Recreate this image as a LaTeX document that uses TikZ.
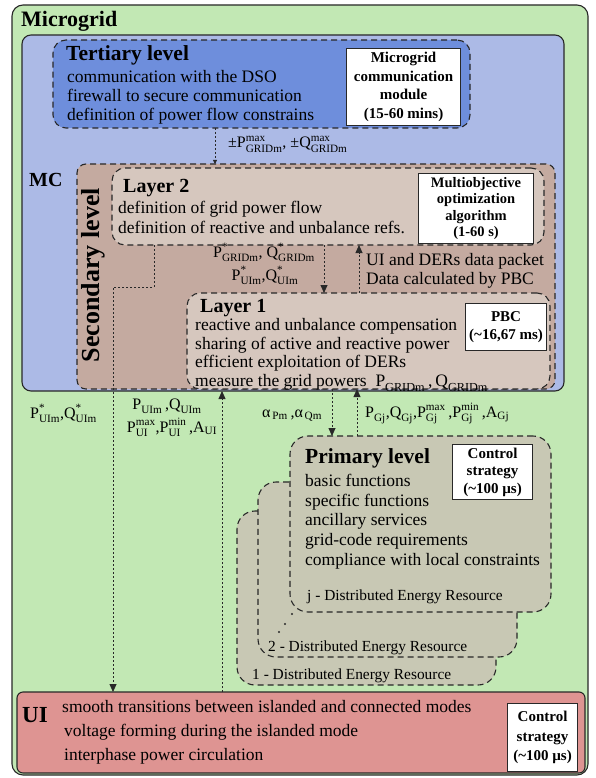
\documentclass[tikz,border=0pt]{standalone}
\usepackage{fontspec}
\usepackage{amsmath}
\setmainfont{Liberation Serif}
\usetikzlibrary{arrows.meta,positioning}

\definecolor{gridgreen}{RGB}{194,232,180}
\definecolor{mcblue}{RGB}{172,186,230}
\definecolor{tertblue}{RGB}{110,142,220}
\definecolor{secbrown}{RGB}{196,170,160}
\definecolor{layerbrown}{RGB}{214,199,190}
\definecolor{derkhaki}{RGB}{200,200,180}
\definecolor{uired}{RGB}{222,148,146}
\definecolor{edge}{RGB}{40,40,40}

\newcommand{\sig}[3]{#1$^{\text{#2}}_{\text{#3}}$}

\begin{document}
\begin{tikzpicture}[x=1pt, y=-1pt,
    box/.style={draw=edge, inner sep=0pt, outer sep=0pt, anchor=north west},
    solidbox/.style={box, line width=1.1pt, rounded corners=9pt},
    dashbox/.style={box, line width=1.1pt, dash pattern=on 6pt off 4pt, rounded corners=13pt},
    infobox/.style={draw=edge, fill=white, line width=1.1pt, inner sep=0pt, anchor=north west, align=center},
    title/.style={anchor=base west, inner sep=0pt, font=\bfseries\fontsize{20}{22}\selectfont},
    body/.style={anchor=north west, inner sep=0pt, align=left},
    label/.style={inner sep=0pt, font=\fontsize{16}{19}\selectfont, align=center},
    link/.style={draw=edge, line width=0.8pt, dash pattern=on 2pt off 2pt},
    linkarrow/.style={link, -{Triangle[width=7pt,length=8pt]}},
    tinyarrow/.style={link, -{Triangle[width=4pt,length=4pt]}}
]
    \useasboundingbox (0,0) rectangle (596,778);
    \fontsize{17.5}{19}\selectfont

    % Cajas principales
    \node[solidbox, fill=gridgreen, minimum width=576, minimum height=770, rounded corners=11pt] (mg) at (12,5) {};
    \node[solidbox, fill=mcblue, minimum width=542, minimum height=356] (mc) at (22,35) {};
    \node[dashbox, fill=tertblue, minimum width=417, minimum height=88] (tert) at (53,40) {};
    \node[dashbox, fill=secbrown, minimum width=478, minimum height=225, rounded corners=9pt] (sec) at (77,164) {};
    \node[dashbox, fill=layerbrown, minimum width=432, minimum height=77] (lay2) at (112,168) {};
    \node[dashbox, fill=layerbrown, minimum width=363, minimum height=96] (lay1) at (187,293) {};
    \node[dashbox, fill=derkhaki, minimum width=259, minimum height=174, rounded corners=18pt] (der1) at (237,511) {};
    \node[dashbox, fill=derkhaki, minimum width=259, minimum height=175, rounded corners=18pt] (der2) at (258,482) {};
    \node[dashbox, fill=derkhaki, minimum width=261, minimum height=176, rounded corners=18pt] (derj) at (290,436) {};
    \node[solidbox, fill=uired, minimum width=568, minimum height=81, rounded corners=6pt] (ui) at (17,692) {};

    % Cajas blancas
    \node[infobox, minimum width=114, minimum height=77, font=\bfseries\fontsize{15}{18.5}\selectfont] (commod) at (346,48)
        {Microgrid\\communication\\module\\(15-60 mins)};
    \node[infobox, minimum width=115, minimum height=70, font=\bfseries\fontsize{14.5}{16.3}\selectfont] (optalg) at (418,173)
        {Multiobjective\\optimization\\algorithm\\(1-60 s)};
    \node[infobox, minimum width=81, minimum height=47, font=\bfseries\fontsize{15}{18}\selectfont] (pbc) at (465,303)
        {PBC\\(\textasciitilde16,67 ms)};
    \node[infobox, minimum width=80, minimum height=55, font=\bfseries\fontsize{15}{17.5}\selectfont] (dercs) at (452,444)
        {Control\\strategy\\(\textasciitilde100 µs)};
    \node[infobox, minimum width=70, minimum height=68, font=\bfseries\fontsize{15}{19.5}\selectfont] (uics) at (507,703)
        {Control\\strategy\\(\textasciitilde100 µs)};

    % Títulos
    \node[title, font=\bfseries\fontsize{22}{24}\selectfont] (mgtitle) at (21,27) {Microgrid};
    \node[title, font=\bfseries\fontsize{20}{22}\selectfont] (mctitle) at (29,186) {MC};
    \node[title, font=\bfseries\fontsize{21.5}{24}\selectfont] (terttitle) at (66,61) {Tertiary level};
    \node[inner sep=0pt, rotate=90, font=\bfseries\fontsize{26}{28}\selectfont] (sectitle) at (93,275) {Secondary level};
    \node[title] (lay2title) at (123,193) {Layer 2};
    \node[title] (lay1title) at (200,312) {Layer 1};
    \node[title, font=\bfseries\fontsize{21.5}{24}\selectfont] (primtitle) at (305,463) {Primary level};
    \node[title, font=\bfseries\fontsize{23}{25}\selectfont] (uititle) at (22,722) {UI};

    % Textos
    \node[body] (terttext) at (67,70) {communication with the DSO\\firewall to secure communication\\definition of power flow constrains};
    \node[body, font=\fontsize{17.5}{20}\selectfont] (lay2text) at (118,201) {definition of grid power flow\\definition of reactive and unbalance refs.};
    \node[body, font=\fontsize{17.5}{18.7}\selectfont] (lay1text) at (195,318) {reactive and unbalance compensation\\sharing of active and reactive power\\efficient exploitation of DERs\\measure the grid powers \ \sig{P}{}{GRIDm}\,,\,\sig{Q}{}{GRIDm}};
    \node[body, font=\fontsize{17.5}{19.7}\selectfont] (primtext) at (305,474) {basic functions\\specific functions\\ancillary services\\grid-code requirements\\compliance with local constraints};
    \node[body, font=\fontsize{17.5}{24}\selectfont] (uitext) at (62,700) {smooth transitions between islanded and connected modes\\\hspace{2pt}voltage forming during the islanded mode\\\hspace{2pt}interphase power circulation};
    \node[anchor=base west, inner sep=0pt, font=\fontsize{15.4}{17}\selectfont] (derjname) at (307,600) {j - Distributed Energy Resource};
    \node[anchor=base west, inner sep=0pt, font=\fontsize{15.4}{17}\selectfont] (der2name) at (268,651) {2 - Distributed Energy Resource};
    \node[anchor=base west, inner sep=0pt, font=\fontsize{15.4}{17}\selectfont] (der1name) at (252,679) {1 - Distributed Energy Resource};

    % Puntos entre recursos
    \fill[edge] (292,614) circle (1.1pt) (285,624) circle (1.1pt) (279,632) circle (1.1pt);

    % Coordenadas de los enlaces
    \coordinate (xtert) at (215,0);
    \coordinate (xdown) at (324,0);
    \coordinate (xup) at (359,0);
    \coordinate (bend) at (154,287);
    \coordinate (xuiref) at (113,0);
    \coordinate (xuimeas) at (222,0);
    \coordinate (xalpha) at (332,0);
    \coordinate (xgen) at (357,0);

    % Enlaces
    \draw[tinyarrow] (tert.south -| xtert) -- (sec.north -| xtert);
    \draw[linkarrow] (lay2.south -| xdown) -- (lay1.north -| xdown);
    \draw[linkarrow] (lay1.north -| xup) -- (lay2.south -| xup);
    \draw[linkarrow] (lay2.south -| bend) -- (bend) -| (ui.north -| xuiref);
    \draw[linkarrow] (ui.north -| xuimeas) -- (mc.south -| xuimeas);
    \draw[linkarrow] (lay1.south -| xalpha) -- (derj.north -| xalpha);
    \draw[linkarrow] (derj.north -| xgen) -- (lay1.south -| xgen);

    % Etiquetas de los enlaces
    \node[label, anchor=base west] (gridmax) at (228,148) {±\sig{P}{max}{GRIDm}, ±\sig{Q}{max}{GRIDm}};
    \node[label, anchor=base] (gridref) at (264,257) {\sig{P}{*}{GRIDm}, \sig{Q}{*}{GRIDm}};
    \node[label, anchor=base] (uiref) at (265,280) {\sig{P}{*}{UIm},\sig{Q}{*}{UIm}};
    \node[anchor=base west, inner sep=0pt, align=left, font=\fontsize{17.5}{19}\selectfont] (packet) at (366,284) {UI and DERs data packet\\Data calculated by PBC};
    \node[label, anchor=base west] (uirefout) at (30,418) {\sig{P}{*}{UIm},\sig{Q}{*}{UIm}};
    \node[label, anchor=base] (uimeas) at (167,409) {\sig{P}{}{UIm}\,,\sig{Q}{}{UIm}};
    \node[label, anchor=base] (uilim) at (172,432) {\sig{P}{max}{UI},\sig{P}{min}{UI}\,,A$_{\text{UI}}$};
    \node[label, anchor=base west] (alpha) at (262,417) {α$_{\,\text{Pm}}$\,,α$_{\,\text{Qm}}$};
    \node[label, anchor=base west] (genmeas) at (365,417) {\sig{P}{}{Gj},\sig{Q}{}{Gj},\sig{P}{max}{Gj}\,,\sig{P}{min}{Gj}\,,A$_{\text{Gj}}$};
\end{tikzpicture}
\end{document}
